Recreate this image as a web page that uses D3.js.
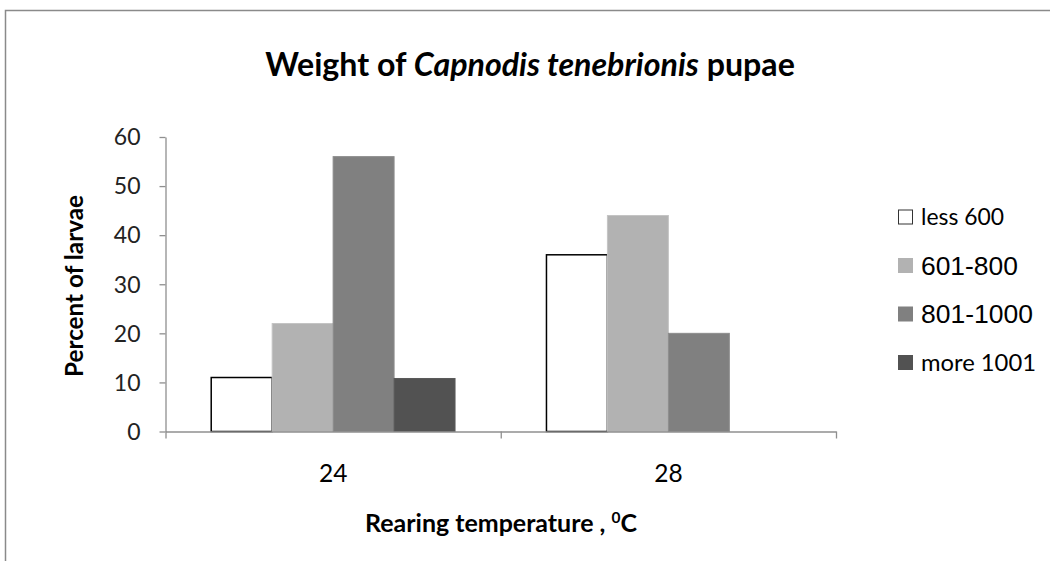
<!DOCTYPE html>
<html><head><meta charset="utf-8">
<script src="https://cdn.jsdelivr.net/npm/d3@7"></script>
<style>body{margin:0;background:#fff}svg{display:block}</style>
</head><body>
<svg id="c" width="1050" height="561"></svg>
<script>
const categories = ["24", "28"];
const seriesNames = ["less 600", "601-800", "801-1000", "more 1001"];
const less600 = [11, 36];
const s601to800 = [22, 44];
const s801to1000 = [56, 20];
const more1001 = [10.8, null];
const yTicks = [0, 10, 20, 30, 40, 50, 60];

const seriesValues = [less600, s601to800, s801to1000, more1001];
const fills = ["#ffffff", "#b2b2b2", "#808080", "#525252"];
const strokes = ["#000000", "#c4c4c4", "#8c8c8c", "#5a5a5a"];
const calibri = "Lato, 'Open Sans', sans-serif";
const arial = "'Liberation Sans', Arial, sans-serif";

// scale font-size so that a text element reaches a target width
function fit(sel, w) {
  const node = sel.node();
  const fs = parseFloat(sel.attr("font-size"));
  const cur = node.getComputedTextLength();
  if (cur > 0) sel.attr("font-size", fs * w / cur);
  return sel;
}

const svg = d3.select("#c");
svg.append("rect").attr("x", 5.5).attr("y", 10.5).attr("width", 1100).attr("height", 600)
  .attr("fill", "#fff").attr("stroke", "#8a8a8a").attr("stroke-width", 1.5);

const plotL = 165.5, plotR = 836, plotT = 137, plotB = 431.5;
const x0 = d3.scaleBand().domain(categories).range([plotL, plotR]).padding(0);
const x1 = d3.scaleBand().domain(seriesNames).range([0, x0.bandwidth()]).paddingInner(0).paddingOuter(0.75);
const y = d3.scaleLinear().domain([0, 60]).range([plotB, plotT]);

// title
const title = svg.append("text").attr("x", 530).attr("y", 76).attr("text-anchor", "middle")
  .attr("font-family", calibri).attr("font-size", 28).attr("font-weight", "bold").attr("fill", "#000");
title.append("tspan").text("Weight of ");
title.append("tspan").attr("font-style", "italic").text("Capnodis tenebrionis");
title.append("tspan").text(" pupae");
fit(title, 530);

// bars
const rows = [];
seriesValues.forEach((arr, si) => arr.forEach((v, ci) => { if (v != null) rows.push({s: si, c: ci, v}); }));
svg.append("g").selectAll("rect").data(rows).join("rect")
  .attr("x", d => x0(categories[d.c]) + x1(seriesNames[d.s]))
  .attr("y", d => y(d.v))
  .attr("width", x1.bandwidth())
  .attr("height", d => y(0) - y(d.v))
  .attr("fill", d => fills[d.s])
  .attr("stroke", d => strokes[d.s])
  .attr("stroke-width", d => d.s === 0 ? 1.5 : 1);

// y axis
const yAxis = svg.append("g").attr("transform", `translate(${plotL},0)`)
  .call(d3.axisLeft(y).tickValues(yTicks).tickSize(6).tickSizeOuter(0).tickPadding(19));
yAxis.select(".domain").attr("stroke", "#8f8f8f").attr("stroke-width", 1.3);
yAxis.selectAll(".tick line").attr("stroke", "#8f8f8f").attr("stroke-width", 1.3);
yAxis.selectAll(".tick text").attr("font-family", calibri).attr("font-size", 23).attr("fill", "#222")
  .attr("dy", "0.34em");

// x axis line + boundary ticks
const xb = d3.scaleLinear().domain([0, categories.length]).range([plotL, plotR]);
const xAxis = svg.append("g").attr("transform", `translate(0,${plotB})`)
  .call(d3.axisBottom(xb).tickValues(d3.range(categories.length + 1)).tickSize(7).tickSizeOuter(0).tickFormat(""));
xAxis.select(".domain").attr("stroke", "#8f8f8f").attr("stroke-width", 1.3);
xAxis.selectAll(".tick line").attr("stroke", "#8f8f8f").attr("stroke-width", 1.3);

// category labels
const xLab = svg.append("g").attr("transform", `translate(0,${plotB})`)
  .call(d3.axisBottom(x0).tickSize(0).tickPadding(0));
xLab.select(".domain").remove();
xLab.selectAll(".tick text").attr("font-family", calibri).attr("font-size", 24.5).attr("fill", "#000")
  .attr("y", 482 - plotB).attr("dy", 0);

// axis titles
const xt = svg.append("text").attr("x", 501).attr("y", 532).attr("text-anchor", "middle")
  .attr("font-family", calibri).attr("font-size", 22).attr("font-weight", "bold").attr("fill", "#000");
xt.append("tspan").text("Rearing temperature , ");
xt.append("tspan").attr("font-size", "0.62em").attr("dy", "-0.55em").text("0");
xt.append("tspan").attr("dy", `${0.55 * 0.62}em`).text("C");
fit(xt, 272);

const yt = svg.append("text").attr("transform", "translate(83,286) rotate(-90)").attr("text-anchor", "middle")
  .attr("font-family", calibri).attr("font-size", 22).attr("font-weight", "bold").attr("fill", "#000")
  .text("Percent of larvae");
fit(yt, 182);

// legend
const legY = d3.scalePoint().domain(seriesNames).range([216.5, 362]);
const legFonts = [calibri, arial, arial, calibri];
const legWidths = [83, 97, 112, 115];
const leg = svg.append("g").selectAll("g").data(seriesNames).join("g")
  .attr("transform", d => `translate(898,${legY(d)})`);
leg.append("rect").attr("x", 0.5).attr("y", -6.5).attr("width", 14).attr("height", 14)
  .attr("fill", (d, i) => fills[i]).attr("stroke", (d, i) => i === 0 ? "#333" : fills[i]);
leg.append("text").attr("x", 23).attr("dy", "0.36em")
  .attr("font-family", (d, i) => legFonts[i]).attr("font-size", 22).attr("fill", "#000")
  .text(d => d)
  .each(function(d, i) { fit(d3.select(this), legWidths[i]); });
</script>
</body></html>
